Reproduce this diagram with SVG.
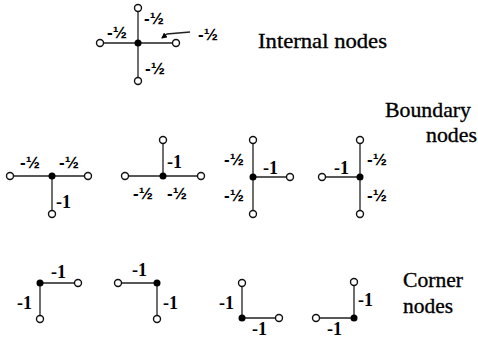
<svg xmlns="http://www.w3.org/2000/svg" width="478" height="338" viewBox="0 0 478 338">
<style>
.e{stroke:#222;stroke-width:1.3;fill:none}
.o{fill:#fff;stroke:#111;stroke-width:1.4}
.f{fill:#000}
.h{font-family:'Liberation Sans',Arial,sans-serif;font-weight:bold;font-size:17px;fill:#000}
.n{font-family:'Liberation Serif',serif;font-weight:bold;font-size:18px;fill:#000}
.t{font-family:'Liberation Serif',serif;font-size:22px;fill:#000;stroke:#000;stroke-width:0.35}
</style>
<defs>
<marker id="ah" markerWidth="6" markerHeight="6" refX="5" refY="3" orient="auto" markerUnits="userSpaceOnUse"><path d="M0,0 L6,3 L0,6 Z" fill="#000"/></marker>
</defs>
<rect width="478" height="338" fill="#fff"/>
<g id="connectors">
<path class="e" d="M138,11V78M104,43H172"/>
<path class="e" d="M190,32L167,34L162,38" marker-end="url(#ah)"/>
<path class="e" d="M14,176H84M52,176V210"/>
<path class="e" d="M129,176H197M163,144V176"/>
<path class="e" d="M253,144V210M253,177H286"/>
<path class="e" d="M326,177H360M360,144V210"/>
<path class="e" d="M74,283H40V315"/>
<path class="e" d="M122,283H157V315"/>
<path class="e" d="M242,287V318H275"/>
<path class="e" d="M320,318H354V286"/>
</g>
<g id="internal">
<circle class="f" cx="138" cy="43" r="3.5"/>
<circle class="o" cx="138" cy="8" r="3.5"/>
<circle class="o" cx="100" cy="43" r="3.5"/>
<circle class="o" cx="176" cy="43" r="3.5"/>
<circle class="o" cx="138" cy="81" r="3.5"/>
<text class="h" x="144" y="24">-½</text>
<text class="h" x="107" y="38">-½</text>
<text class="h" x="145" y="74">-½</text>
<text class="h" x="198" y="40">-½</text>
<text class="t" x="258" y="48" textLength="129" lengthAdjust="spacingAndGlyphs">Internal nodes</text>
</g>
<g id="boundary-label">
<text class="t" x="385" y="117" textLength="86" lengthAdjust="spacingAndGlyphs">Boundary</text>
<text class="t" x="426" y="142" textLength="51" lengthAdjust="spacingAndGlyphs">nodes</text>
</g>
<g id="boundary1">
<circle class="f" cx="52" cy="176" r="3.5"/>
<circle class="o" cx="10" cy="176" r="3.5"/>
<circle class="o" cx="88" cy="176" r="3.5"/>
<circle class="o" cx="52" cy="214" r="3.5"/>
<text class="h" x="20" y="168">-½</text>
<text class="h" x="59" y="168">-½</text>
<text class="n" x="56" y="208">-1</text>
</g>
<g id="boundary2">
<circle class="f" cx="163" cy="176" r="3.5"/>
<circle class="o" cx="163" cy="140" r="3.5"/>
<circle class="o" cx="125" cy="176" r="3.5"/>
<circle class="o" cx="201" cy="176" r="3.5"/>
<text class="n" x="167" y="168">-1</text>
<text class="h" x="133" y="199">-½</text>
<text class="h" x="167" y="199">-½</text>
</g>
<g id="boundary3">
<circle class="f" cx="253" cy="177" r="3.5"/>
<circle class="o" cx="253" cy="140" r="3.5"/>
<circle class="o" cx="290" cy="177" r="3.5"/>
<circle class="o" cx="253" cy="214" r="3.5"/>
<text class="h" x="224" y="165">-½</text>
<text class="h" x="224" y="201">-½</text>
<text class="n" x="263" y="174">-1</text>
</g>
<g id="boundary4">
<circle class="f" cx="360" cy="177" r="3.5"/>
<circle class="o" cx="360" cy="140" r="3.5"/>
<circle class="o" cx="322" cy="177" r="3.5"/>
<circle class="o" cx="360" cy="214" r="3.5"/>
<text class="h" x="367" y="165">-½</text>
<text class="h" x="367" y="201">-½</text>
<text class="n" x="334" y="174">-1</text>
</g>
<g id="corner-label">
<text class="t" x="403" y="287" textLength="60" lengthAdjust="spacingAndGlyphs">Corner</text>
<text class="t" x="403" y="313" textLength="50" lengthAdjust="spacingAndGlyphs">nodes</text>
</g>
<g id="corner1">
<circle class="f" cx="40" cy="283" r="3.5"/>
<circle class="o" cx="78" cy="283" r="3.5"/>
<circle class="o" cx="40" cy="319" r="3.5"/>
<text class="n" x="51" y="278">-1</text>
<text class="n" x="17" y="309">-1</text>
</g>
<g id="corner2">
<circle class="f" cx="157" cy="283" r="3.5"/>
<circle class="o" cx="118" cy="283" r="3.5"/>
<circle class="o" cx="157" cy="319" r="3.5"/>
<text class="n" x="132" y="276">-1</text>
<text class="n" x="163" y="309">-1</text>
</g>
<g id="corner3">
<circle class="f" cx="242" cy="318" r="3.5"/>
<circle class="o" cx="242" cy="283" r="3.5"/>
<circle class="o" cx="279" cy="318" r="3.5"/>
<text class="n" x="219" y="309">-1</text>
<text class="n" x="252" y="335">-1</text>
</g>
<g id="corner4">
<circle class="f" cx="354" cy="318" r="3.5"/>
<circle class="o" cx="354" cy="282" r="3.5"/>
<circle class="o" cx="316" cy="318" r="3.5"/>
<text class="n" x="358" y="306">-1</text>
<text class="n" x="327" y="335">-1</text>
</g>
</svg>
